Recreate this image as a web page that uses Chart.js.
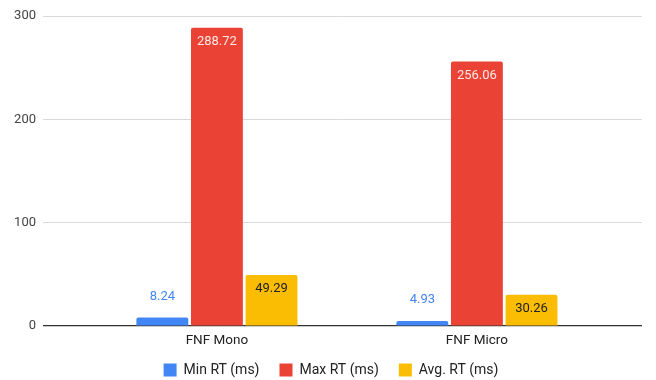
<!DOCTYPE html>
<html>
<head>
<meta charset="utf-8">
<script src="https://cdn.jsdelivr.net/npm/chart.js@4/dist/chart.umd.min.js"></script>
<style>
html,body{margin:0;padding:0;background:#fff;}
#wrap{width:656px;height:380px;}
</style>
</head>
<body>
<div id="wrap"><canvas id="c" width="656" height="380"></canvas></div>
<script>
const categories = ['FNF Mono', 'FNF Micro'];
const seriesNames = ['Min RT (ms)', 'Max RT (ms)', 'Avg. RT (ms)'];
const minRT = [8.24, 4.93];
const maxRT = [288.72, 256.06];
const avgRT = [49.29, 30.26];
const yTicks = [0, 100, 200, 300];

const colors = ['#4285F4', '#EA4335', '#FBBC04'];
const labelStyles = [
  {inside:false, color:'#4285F4'},
  {inside:true, color:'#FCE8E6'},
  {inside:true, color:'#202124'}
];

function toPoints(arr){ return arr.map((v,i)=>({x:i, y:v})); }

const valueLabels = {
  id:'valueLabels',
  afterDatasetsDraw(chart){
    const ctx = chart.ctx;
    ctx.save();
    ctx.font = '13px Roboto';
    ctx.textAlign = 'center';
    ctx.textBaseline = 'middle';
    chart.data.datasets.forEach((ds, di)=>{
      const meta = chart.getDatasetMeta(di);
      const st = labelStyles[di];
      meta.data.forEach((el, i)=>{
        const v = ds.data[i].y;
        ctx.fillStyle = st.color;
        const y = st.inside ? el.y + 14 : el.y - 21;
        ctx.fillText(v.toFixed(2), el.x, y);
      });
    });
    ctx.restore();
  }
};

const legendTweak = {
  id:'legendTweak',
  beforeLayout(chart){
    const lg = chart.legend;
    if (lg && !lg.__wrapped){
      const f = lg.fit;
      lg.fit = function(){ f.call(this); this.height = 30; };
      lg.__wrapped = true;
    }
  },
  afterLayout(chart){
    const lg = chart.legend;
    if (lg){
      lg.top = 343; lg.bottom = 380; lg.height = 37;
      lg.left += 10; lg.right += 10;
    }
  }
};

new Chart(document.getElementById('c'), {
  type:'bar',
  data:{
    datasets:[
      {label:seriesNames[0], data:toPoints(minRT), backgroundColor:colors[0]},
      {label:seriesNames[1], data:toPoints(maxRT), backgroundColor:colors[1]},
      {label:seriesNames[2], data:toPoints(avgRT), backgroundColor:colors[2]}
    ]
  },
  options:{
    responsive:false,
    animation:false,
    devicePixelRatio:1,
    layout:{padding:{left:0, right:14, top:16, bottom:0}},
    datasets:{bar:{categoryPercentage:0.63, barPercentage:0.95, borderRadius:2, borderSkipped:'bottom'}},
    scales:{
      x:{
        type:'linear',
        offset:false,
        min:-0.669, max:1.635,
        grid:{display:false, drawTicks:false, offset:false},
        border:{display:false},
        afterBuildTicks(scale){ scale.ticks = categories.map((c,i)=>({value:i})); },
        afterFit(scale){ scale.height = 24; },
        ticks:{
          autoSkip:false, maxRotation:0,
          padding:7,
          color:'#222',
          font:{family:'Roboto', size:13.5},
          callback:(v)=>categories[v]
        }
      },
      y:{
        min:0, max:300,
        afterBuildTicks(scale){ scale.ticks = yTicks.map(v=>({value:v})); },
        afterFit(scale){ scale.width = 43; },
        grid:{
          drawTicks:false,
          color:(c)=> c.tick && c.tick.value===0 ? '#333333' : '#D9D9D9',
          lineWidth:(c)=> c.tick && c.tick.value===0 ? 1.2 : 1
        },
        border:{display:false},
        ticks:{padding:7, color:'#444', font:{family:'Roboto', size:13}}
      }
    },
    plugins:{
      legend:{
        position:'bottom',
        labels:{boxWidth:13, boxHeight:13, padding:20, color:'#222', font:{family:'Roboto', size:14}}
      },
      tooltip:{enabled:false}
    }
  },
  plugins:[valueLabels, legendTweak]
});
</script>
</body>
</html>
